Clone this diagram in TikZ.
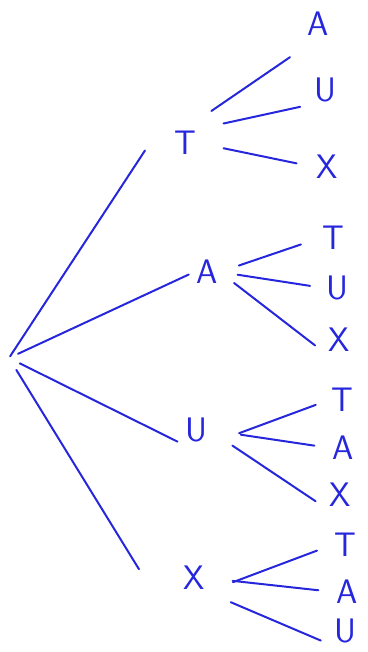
\documentclass[tikz,border=0pt]{standalone}
\usepackage{tikz}
\usetikzlibrary{calc}
\definecolor{penblue}{HTML}{2626DC}

\begin{document}
\begin{tikzpicture}[
      x=1pt, y=-1pt,
      letter/.style={
        inner sep=2pt, text=penblue,
        font=\sffamily\fontsize{34}{34}\selectfont
      },
      link/.style={draw=penblue, line width=2pt, line cap=round}
    ]
      \useasboundingbox (0,0) rectangle (367,652);

      \coordinate (root) at (9,358);
      \node[letter] (t) at (185,143) {T};
      \node[letter] (a) at (207,272) {A};
      \node[letter] (u) at (196,430) {U};
      \node[letter] (x) at (194,578) {X};

      \node[letter] (ta) at (318,24) {A};
      \node[letter] (tu) at (325,90) {U};
      \node[letter] (tx) at (327,167) {X};

      \node[letter] (at) at (333,238) {T};
      \node[letter] (au) at (337,288) {U};
      \node[letter] (ax) at (339,340) {X};

      \node[letter] (ut) at (342,400) {T};
      \node[letter] (ua) at (343,448) {A};
      \node[letter] (ux) at (340,495) {X};

      \node[letter] (xt) at (345,545) {T};
      \node[letter] (xa) at (347,592) {A};
      \node[letter] (xu) at (345,631) {U};

      \draw[link, shorten <=2pt, shorten >=9pt] (root) -- ($(t.west)+(-22,0)$);
      \draw[link, shorten <=10pt, shorten >=6pt] (root) -- (a.west);
      \draw[link, shorten <=12pt, shorten >=6pt] (root) -- (u.south west);
      \draw[link, shorten <=14pt, shorten >=8pt] (root) -- ($(x.west)+(-38,-2)$);

      \draw[link, shorten <=32pt, shorten >=34pt] (t.north) -- (ta.south);
      \draw[link, shorten <=26pt, shorten >=12pt] (t.north east) -- (tu.south west);
      \draw[link, shorten <=26pt, shorten >=18pt] (t.east) -- (tx.west);

      \draw[link, shorten <=20pt, shorten >=20pt] (a.east) -- (at.west);
      \draw[link, shorten <=18pt, shorten >=14pt] (a.east) -- (au.west);
      \draw[link, shorten <=18pt, shorten >=14pt] (a.east) -- (ax.south west);

      \draw[link, shorten <=32pt, shorten >=14pt] (u.south east) -- (ut.west);
      \draw[link, shorten <=32pt, shorten >=16pt] (u.east) -- (ua.west);
      \draw[link, shorten <=28pt, shorten >=14pt] (u.east) -- (ux.south west);

      \draw[link, shorten <=28pt, shorten >=16pt] (x.south east) -- (xt.west);
      \draw[link, shorten <=26pt, shorten >=16pt] (x.east) -- (xa.west);
      \draw[link, shorten <=26pt, shorten >=12pt] (x.south east) -- (xu.south west);
    \end{tikzpicture}
\end{document}
